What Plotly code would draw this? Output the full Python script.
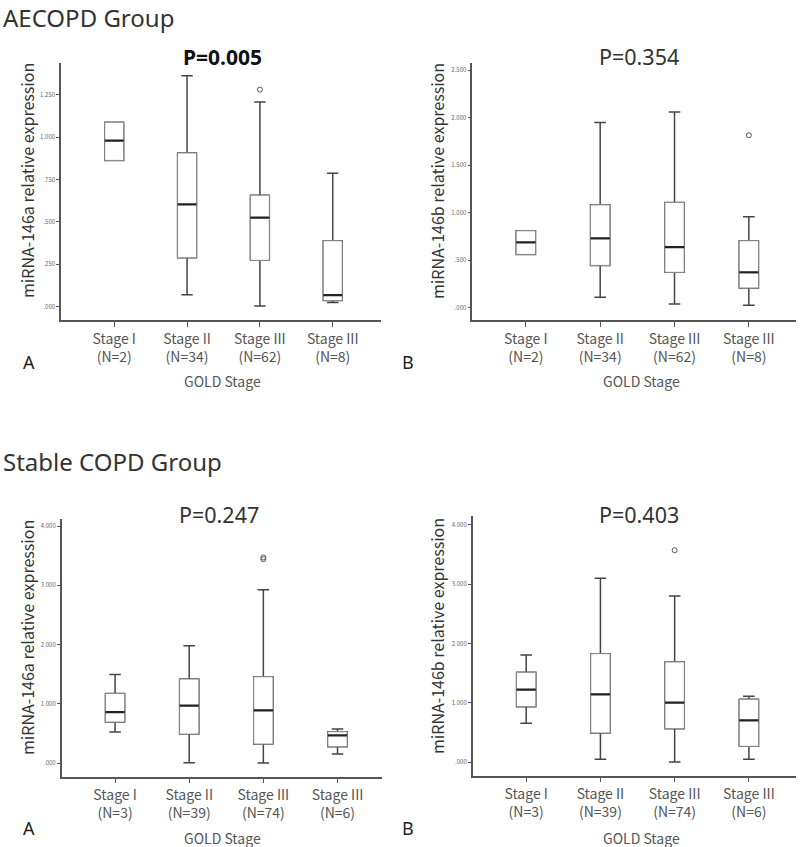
import plotly.graph_objects as go
from plotly.subplots import make_subplots

# categories
stages = ["Stage I", "Stage II", "Stage III", "Stage III"]
n_aecopd = [2, 34, 62, 8]
n_stable = [3, 39, 74, 6]
positions = [0, 1, 2, 3]

# AECOPD miRNA-146a
a146a_lo = [0.862, 0.069, 0.002, 0.024]
a146a_q1 = [0.862, 0.287, 0.272, 0.035]
a146a_med = [0.979, 0.602, 0.524, 0.067]
a146a_q3 = [1.087, 0.906, 0.657, 0.388]
a146a_hi = [1.087, 1.362, 1.207, 0.787]
a146a_out_x = [2]
a146a_out_y = [1.280]

# AECOPD miRNA-146b
a146b_lo = [0.561, 0.109, 0.039, 0.025]
a146b_q1 = [0.561, 0.445, 0.372, 0.207]
a146b_med = [0.687, 0.729, 0.638, 0.372]
a146b_q3 = [0.810, 1.083, 1.108, 0.705]
a146b_hi = [0.810, 1.950, 2.062, 0.957]
a146b_out_x = [3]
a146b_out_y = [1.816]

# Stable COPD miRNA-146a
s146a_lo = [0.523, 0.006, 0.000, 0.152]
s146a_q1 = [0.692, 0.489, 0.321, 0.276]
s146a_med = [0.861, 0.968, 0.889, 0.467]
s146a_q3 = [1.176, 1.418, 1.457, 0.529]
s146a_hi = [1.497, 1.980, 2.925, 0.574]
s146a_out_x = [2, 2]
s146a_out_y = [3.47, 3.44]

# Stable COPD miRNA-146b
s146b_lo = [0.657, 0.051, 0.006, 0.051]
s146b_q1 = [0.938, 0.494, 0.567, 0.270]
s146b_med = [1.225, 1.146, 1.006, 0.708]
s146b_q3 = [1.517, 1.831, 1.691, 1.062]
s146b_hi = [1.809, 3.101, 2.803, 1.112]
s146b_out_x = [2]
s146b_out_y = [3.573]

# tick labels
yt_a146a = [0, 0.25, 0.5, 0.75, 1.0, 1.25]
yt_a146a_txt = [".000", ".250", ".500", ".750", "1.000", "1.250"]
yt_a146b = [0, 0.5, 1.0, 1.5, 2.0, 2.5]
yt_a146b_txt = [".000", ".500", "1.000", "1.500", "2.000", "2.500"]
yt_stable = [0, 1, 2, 3, 4]
yt_stable_txt = [".000", "1.000", "2.000", "3.000", "4.000"]

FONT = "Noto Sans CJK SC"
HEAD_FONT = "Noto Sans"
BOXW = 0.26

panels = [
    dict(lo=a146a_lo, q1=a146a_q1, med=a146a_med, q3=a146a_q3, hi=a146a_hi,
         ox=a146a_out_x, oy=a146a_out_y, n=n_aecopd, yt=yt_a146a, ytt=yt_a146a_txt,
         yr=[-0.08, 1.437], xr=[-0.73, 3.66]),
    dict(lo=a146b_lo, q1=a146b_q1, med=a146b_med, q3=a146b_q3, hi=a146b_hi,
         ox=a146b_out_x, oy=a146b_out_y, n=n_aecopd, yt=yt_a146b, ytt=yt_a146b_txt,
         yr=[-0.13, 2.577], xr=[-0.72, 3.63]),
    dict(lo=s146a_lo, q1=s146a_q1, med=s146a_med, q3=s146a_q3, hi=s146a_hi,
         ox=s146a_out_x, oy=s146a_out_y, n=n_stable, yt=yt_stable, ytt=yt_stable_txt,
         yr=[-0.23, 4.12], xr=[-0.72, 3.60]),
    dict(lo=s146b_lo, q1=s146b_q1, med=s146b_med, q3=s146b_q3, hi=s146b_hi,
         ox=s146b_out_x, oy=s146b_out_y, n=n_stable, yt=yt_stable, ytt=yt_stable_txt,
         yr=[-0.225, 4.15], xr=[-0.72, 3.63]),
]

x_domains = [[0.0763, 0.476], [0.5904, 0.9946], [0.0771, 0.4775], [0.5909, 0.9946]]
y_domains = [[0.6222, 0.9256], [0.6222, 0.9256], [0.083, 0.3873], [0.0842, 0.3908]]

fig = make_subplots(rows=2, cols=2)

for i, p in enumerate(panels):
    r, c = i // 2 + 1, i % 2 + 1
    # whiskers (dark)
    fig.add_trace(go.Box(
        x=positions, q1=p["q1"], median=p["med"], q3=p["q3"],
        lowerfence=p["lo"], upperfence=p["hi"], width=BOXW, whiskerwidth=0.6,
        line=dict(color="#444444", width=1.5), fillcolor="white",
        boxpoints=False, hoverinfo="skip", showlegend=False), row=r, col=c)
    # box body (lighter outline)
    fig.add_trace(go.Box(
        x=positions, q1=p["q1"], median=p["med"], q3=p["q3"],
        lowerfence=p["q1"], upperfence=p["q3"], width=BOXW, whiskerwidth=0,
        line=dict(color="#8a8a8a", width=1), fillcolor="white",
        boxpoints=False, showlegend=False), row=r, col=c)
    # thick median
    mx, my = [], []
    for pos, m in zip(positions, p["med"]):
        mx += [pos - BOXW / 2, pos + BOXW / 2, None]
        my += [m, m, None]
    fig.add_trace(go.Scatter(x=mx, y=my, mode="lines",
                             line=dict(color="#222222", width=2.2),
                             hoverinfo="skip", showlegend=False), row=r, col=c)
    # outliers
    fig.add_trace(go.Scatter(x=p["ox"], y=p["oy"], mode="markers",
                             marker=dict(symbol="circle-open", size=5,
                                         color="#555555", line=dict(width=1)),
                             showlegend=False), row=r, col=c)

    ticktext = [f"{s}<br>(N={n})" for s, n in zip(stages, p["n"])]
    fig.update_xaxes(domain=x_domains[i], range=p["xr"], tickvals=positions,
                     ticktext=ticktext, ticks="outside", ticklen=5, tickwidth=1,
                     tickcolor="#555555", showline=True, linecolor="#555555",
                     linewidth=1.5, showgrid=False, zeroline=False,
                     tickfont=dict(family=FONT, size=14, color="#555555"),
                     row=r, col=c)
    fig.update_yaxes(domain=y_domains[i], range=p["yr"], tickvals=p["yt"],
                     ticktext=p["ytt"], ticks="outside", ticklen=3, tickwidth=1,
                     tickcolor="#555555", showline=True, linecolor="#555555",
                     linewidth=1.5, showgrid=False, zeroline=False,
                     tickfont=dict(family=FONT, size=6, color="#666666"),
                     row=r, col=c)

W, H = 800, 847


def px(x, y):
    return x / W, 1 - y / H


annotations = []


def add_text(text, x, y, size, color="#333333", angle=0, xanchor="center",
             bold=False, family=FONT):
    ax, ay = px(x, y)
    if bold:
        text = f"<b>{text}</b>"
    annotations.append(dict(text=text, x=ax, y=ay, xref="paper", yref="paper",
                            xanchor=xanchor, yanchor="middle", showarrow=False,
                            textangle=angle,
                            font=dict(family=family, size=size, color=color)))


add_text("AECOPD Group", 1, 18, 24, xanchor="left", family=HEAD_FONT)
add_text("Stable COPD Group", 1, 462, 24, xanchor="left", family=HEAD_FONT)

add_text("P=0.005", 222, 57, 21, color="#111111", bold=True, family=HEAD_FONT)
add_text("P=0.354", 639, 57, 21.5, family=HEAD_FONT)
add_text("P=0.247", 219, 514, 21.5, family=HEAD_FONT)
add_text("P=0.403", 639, 514, 21.5, family=HEAD_FONT)

add_text("miRNA-146a relative expression", 27, 181, 16, angle=-90)
add_text("miRNA-146b relative expression", 437, 181, 16, angle=-90)
add_text("miRNA-146a relative expression", 27, 638, 16, angle=-90)
add_text("miRNA-146b relative expression", 437, 636, 16, angle=-90)

add_text("GOLD Stage", 222, 381, 14, color="#555555")
add_text("GOLD Stage", 641, 381, 14, color="#555555")
add_text("GOLD Stage", 222, 838, 14, color="#555555")
add_text("GOLD Stage", 641, 838, 14, color="#555555")

add_text("A", 29, 362, 18, color="#222222", family=HEAD_FONT)
add_text("B", 408, 362, 18, color="#222222", family=HEAD_FONT)
add_text("A", 29, 828, 18, color="#222222", family=HEAD_FONT)
add_text("B", 408, 828, 18, color="#222222", family=HEAD_FONT)

fig.update_layout(width=W, height=H, margin=dict(l=0, r=0, t=0, b=0),
                  paper_bgcolor="white", plot_bgcolor="white",
                  annotations=annotations, showlegend=False)

fig.write_html("out.html", config={"displayModeBar": False},
               post_script="document.body.style.margin='0';")
